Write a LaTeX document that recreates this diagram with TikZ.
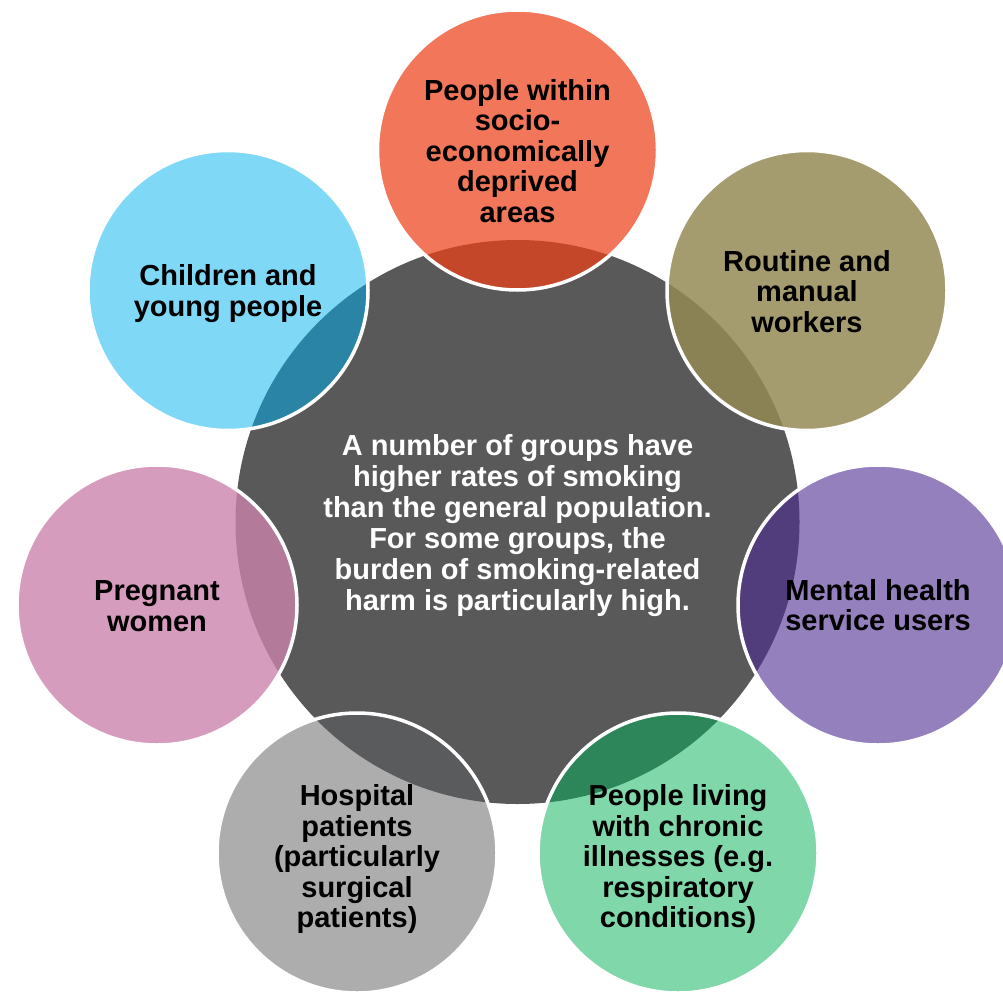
\documentclass[tikz,border=0pt]{standalone}
\usepackage{fontspec}
\setmainfont{Liberation Sans}
\definecolor{cgray}{HTML}{595959}
\definecolor{orL}{HTML}{F2765A}\definecolor{orD}{HTML}{C4472A}
\definecolor{olL}{HTML}{A49B6E}\definecolor{olD}{HTML}{8A8254}
\definecolor{puL}{HTML}{9480BD}\definecolor{puD}{HTML}{523D7C}
\definecolor{grL}{HTML}{80D7AA}\definecolor{grD}{HTML}{2C8659}
\definecolor{hgL}{HTML}{ADADAD}\definecolor{hgD}{HTML}{5A5B5D}
\definecolor{piL}{HTML}{D69CBD}\definecolor{piD}{HTML}{B47A99}
\definecolor{blL}{HTML}{80D8F7}\definecolor{blD}{HTML}{2A84A5}
\newcommand\vennpart[3]{%
  \fill[#2] (#1) circle (140pt);
  \begin{scope}\clip (ctr) circle (282pt); \fill[#3] (#1) circle (140pt);\end{scope}}
\begin{document}
\begin{tikzpicture}[x=1pt,y=-1pt,
  txt/.style={font=\bfseries\fontsize{29}{30.5}\selectfont, align=center, inner sep=0pt},
  ring/.style={circle, minimum size=280pt, inner sep=0pt, draw=white, line width=3.5pt}]
\useasboundingbox (0,0) rectangle (1003,992);
\fill[white] (0,0) rectangle (1003,992);
\clip (0,0) rectangle (1003,992);
\coordinate (ctr) at (517.5,522);
\coordinate (pOr) at (517.5,150);
\coordinate (pOl) at (807,290.5);
\coordinate (pPu) at (878,605);
\coordinate (pGr) at (678,853);
\coordinate (pHg) at (357,853);
\coordinate (pPi) at (157,605);
\coordinate (pBl) at (228,290.5);
\node[circle, fill=cgray, minimum size=564pt, inner sep=0pt] (center) at (ctr) {};
\node[txt, text=white, font=\bfseries\fontsize{29}{31}\selectfont] (centertext) at ([yshift=-4pt]ctr)
  {A number of groups have\\higher rates of smoking\\than the general population.\\For some groups, the\\burden of smoking-related\\harm is particularly high.};
\vennpart{pOr}{orL}{orD}
\vennpart{pOl}{olL}{olD}
\vennpart{pPu}{puL}{puD}
\vennpart{pGr}{grL}{grD}
\vennpart{pHg}{hgL}{hgD}
\vennpart{pPi}{piL}{piD}
\vennpart{pBl}{blL}{blD}
\node[ring] (deprived) at (pOr) {};
\node[ring] (routine) at (pOl) {};
\node[ring] (mental) at (pPu) {};
\node[ring] (chronic) at (pGr) {};
\node[ring] (hospital) at (pHg) {};
\node[ring] (pregnant) at (pPi) {};
\node[ring] (children) at (pBl) {};
\node[txt] (deprivedtext) at ([yshift=-1pt]deprived.center) {People within\\socio-\\economically\\deprived\\areas};
\node[txt] (routinetext) at ([yshift=-1pt]routine.center) {Routine and\\manual\\workers};
\node[txt] (mentaltext) at ([yshift=0pt]mental.center) {Mental health\\service users};
\node[txt] (chronictext) at ([yshift=-6pt]chronic.center) {People living\\with chronic\\illnesses (e.g.\\respiratory\\conditions)};
\node[txt] (hospitaltext) at ([yshift=-6pt]hospital.center) {Hospital\\patients\\(particularly\\surgical\\patients)};
\node[txt] (pregnanttext) at ([yshift=-1pt]pregnant.center) {Pregnant\\women};
\node[txt] (childrentext) at ([yshift=-3pt]children.center) {Children and\\young people};
\end{tikzpicture}
\end{document}
